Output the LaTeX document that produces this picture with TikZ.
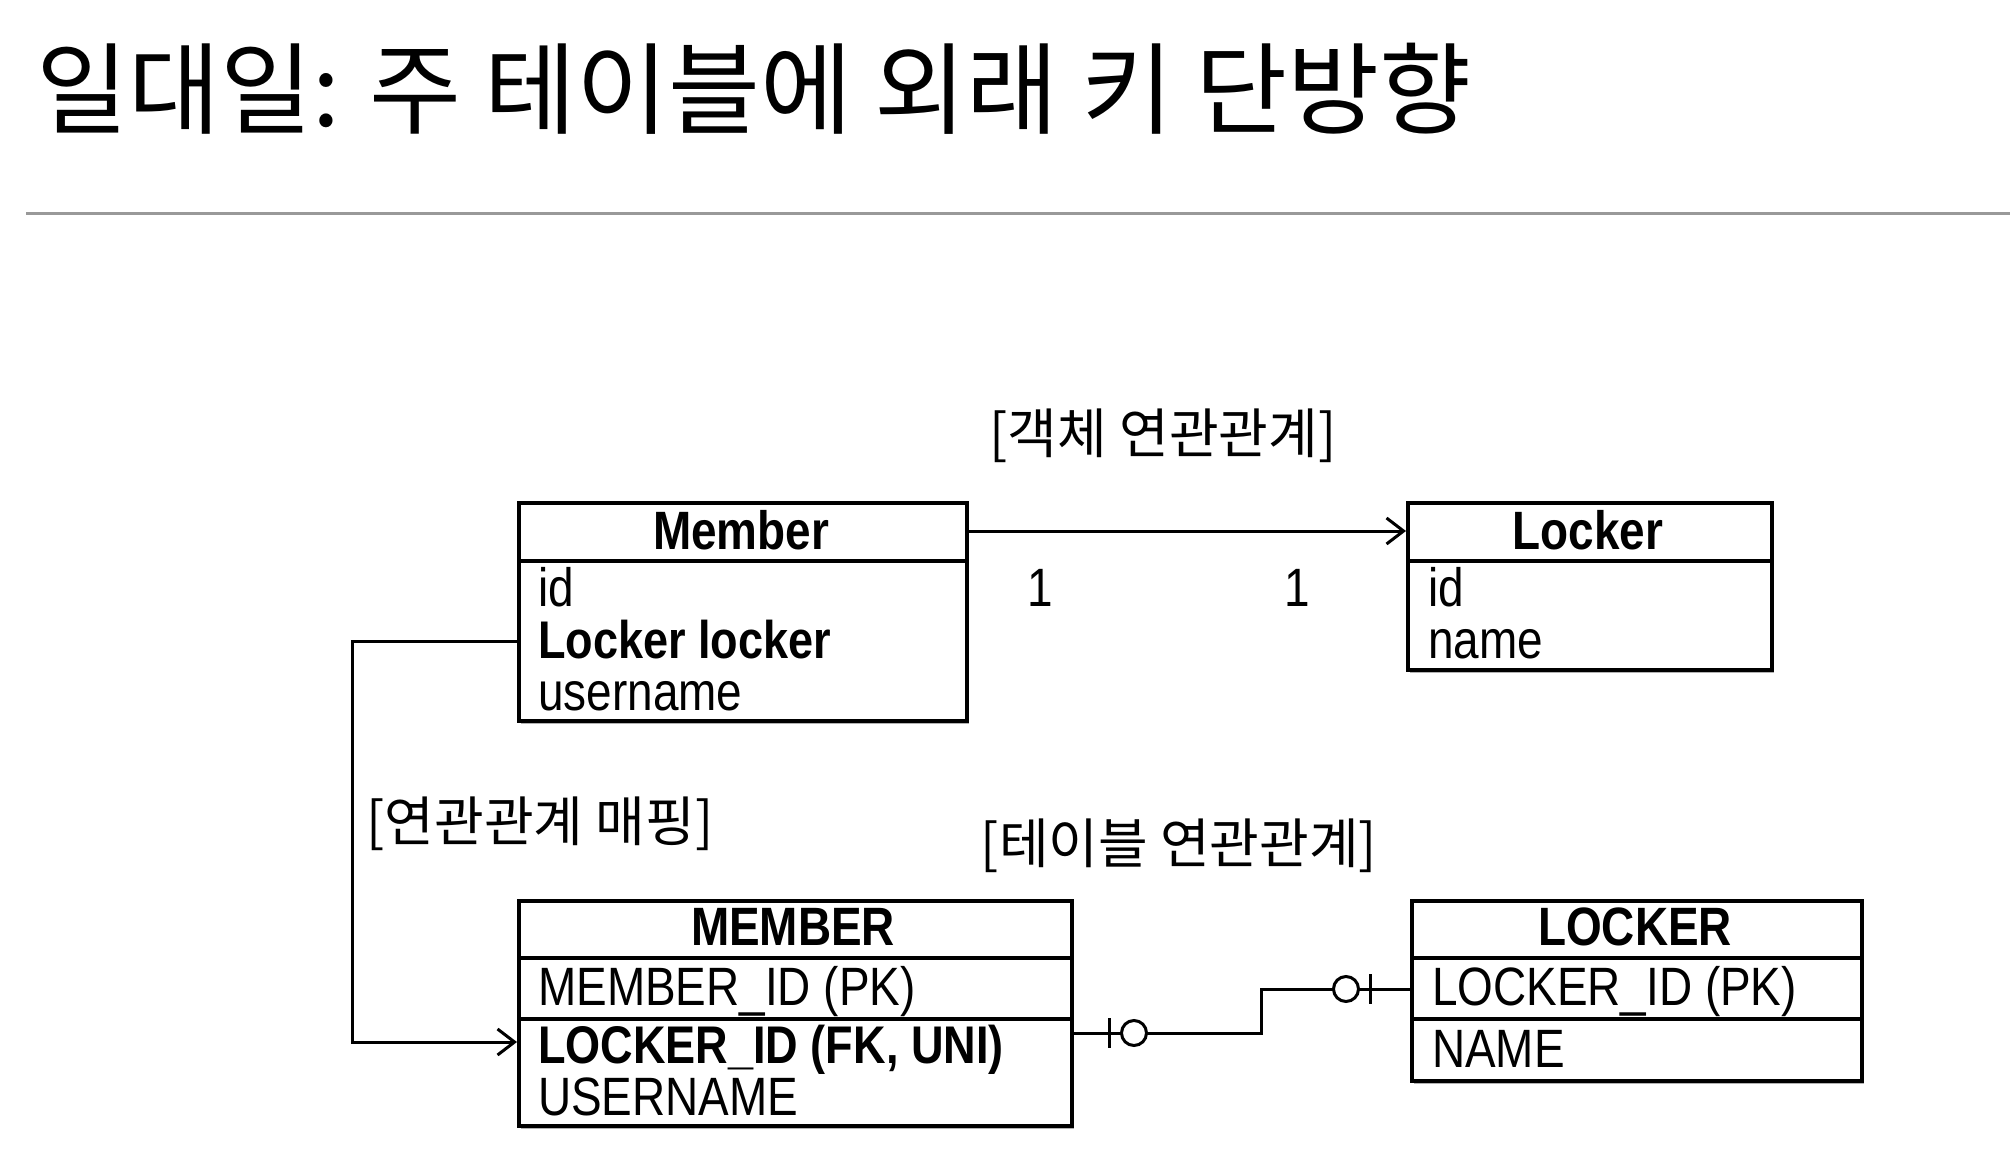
\documentclass[tikz,border=0pt]{standalone}
\usepackage{fontspec}
\setmainfont[FakeStretch=0.85]{Liberation Sans}
\newfontfamily\kr{Noto Sans CJK KR}
\usetikzlibrary{arrows.meta,shadows}
\begin{document}
\begin{tikzpicture}[x=1pt,y=-1pt,
  box/.style={draw, line width=3.8pt, fill=white, anchor=north west, inner sep=0pt,
    drop shadow={shadow xshift=2pt,shadow yshift=-3pt,fill=black,opacity=0.3}},
  sepline/.style={line width=3.8pt},
  head/.style={font=\fontsize{54}{54}\selectfont\bfseries, anchor=base, inner sep=0pt},
  field/.style={font=\fontsize{54}{54}\selectfont, anchor=base west, inner sep=0pt},
  bfield/.style={field, font=\fontsize{53}{53}\selectfont\bfseries},
  krlabel/.style={font=\fontsize{54}{54}\selectfont\kr, inner sep=0pt},
  conn/.style={line width=3pt},
  tipline/.style={conn, -{Straight Barb[length=17pt,width=26pt,line width=3pt]}}
]
\useasboundingbox (0,0) rectangle (2010,1172);
\fill[white] (0,0) rectangle (2010,1172);

% title and rule
\node[anchor=west, inner sep=0pt, font=\fontsize{100}{100}\selectfont\kr] (title) at (36,89) {일대일: 주 테이블에 외래 키 단방향};
\coordinate (ruleL) at (26,213);
\coordinate (ruleR) at (2010,213);
\draw[line width=3pt, black!40] (ruleL) -- (ruleR);

% Member (object)
\node[box, minimum width=448pt, minimum height=218pt] (member) at (517,501) {};
\draw[sepline] ([yshift=-60pt]member.north west) -- ([yshift=-60pt]member.north east);
\node[head] (memberh) at (741,549) {Member};
\node[field] (mf1) at (538,606) {id};
\node[bfield] (mf2) at (538,658) {Locker locker};
\node[field] (mf3) at (538,710) {username};

% Locker (object)
\node[box, minimum width=364pt, minimum height=167pt] (locker) at (1406,501) {};
\draw[sepline] ([yshift=-60pt]locker.north west) -- ([yshift=-60pt]locker.north east);
\node[head] (lockerh) at (1588,549) {Locker};
\node[field] (lf1) at (1428,606) {id};
\node[field] (lf2) at (1428,658) {name};

% MEMBER (table)
\node[box, minimum width=553pt, minimum height=225pt] (MEMBER) at (517,899) {};
\draw[sepline] ([yshift=-59pt]MEMBER.north west) -- ([yshift=-59pt]MEMBER.north east);
\draw[sepline] ([yshift=-120pt]MEMBER.north west) -- ([yshift=-120pt]MEMBER.north east);
\node[head] (MEMBERh) at (793,945) {MEMBER};
\node[field] (Mf1) at (538,1005) {MEMBER\_ID (PK)};
\node[bfield] (Mf2) at (538,1063) {LOCKER\_ID (FK, UNI)};
\node[field] (Mf3) at (538,1115) {USERNAME};

% LOCKER (table)
\node[box, minimum width=450pt, minimum height=180pt] (LOCKER) at (1410,899) {};
\draw[sepline] ([yshift=-59pt]LOCKER.north west) -- ([yshift=-59pt]LOCKER.north east);
\draw[sepline] ([yshift=-120pt]LOCKER.north west) -- ([yshift=-120pt]LOCKER.north east);
\node[head] (LOCKERh) at (1635,945) {LOCKER};
\node[field] (Lf1) at (1432,1005) {LOCKER\_ID (PK)};
\node[field] (Lf2) at (1432,1067) {NAME};

% labels
\node[krlabel] (lblobj) at (1163,436) {[객체 연관관계]};
\node[krlabel] (lblmap) at (540,824) {[연관관계 매핑]};
\node[krlabel] (lbltab) at (1179,846) {[테이블 연관관계]};
\node[field, anchor=base] (one1) at (1040,606) {1};
\node[field, anchor=base] (one2) at (1297,606) {1};

% object association
\coordinate (yObj) at (0,531);
\draw[tipline] (member.east |- yObj) -- (locker.west |- yObj);

% mapping
\coordinate (yMap1) at (0,641);
\coordinate (yMap2) at (0,1042);
\coordinate (xMap) at (352,0);
\draw[tipline] (member.west |- yMap1) -- (xMap |- yMap1) -- (xMap |- yMap2) -- (MEMBER.west |- yMap2);

% table relationship
\coordinate (yA) at (0,1033);
\coordinate (yB) at (0,989);
\coordinate (xMid) at (1261,0);
\draw[conn] (MEMBER.east |- yA) -- (xMid |- yA) -- (xMid |- yB) -- (LOCKER.west |- yB);
\coordinate (barA) at (1109,1033);
\coordinate (cirA) at (1134,1033);
\coordinate (cirB) at (1346,989);
\coordinate (barB) at (1370,989);
\draw[conn] ([yshift=15pt]barA) -- ([yshift=-15pt]barA);
\draw[conn, fill=white] (cirA) circle (12.5pt);
\draw[conn, fill=white] (cirB) circle (12.5pt);
\draw[conn] ([yshift=15pt]barB) -- ([yshift=-15pt]barB);
\end{tikzpicture}
\end{document}
